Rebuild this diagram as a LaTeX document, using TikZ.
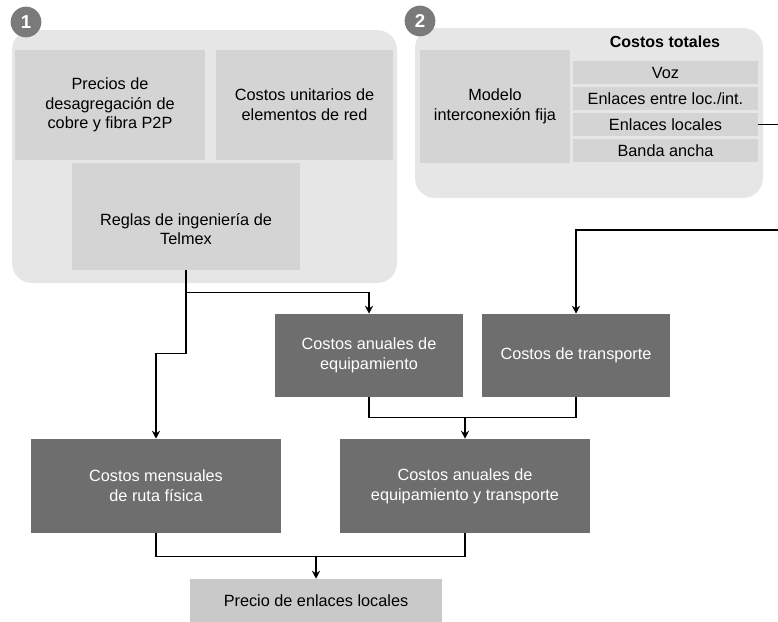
\documentclass[tikz,border=0pt]{standalone}
\usepackage{fontspec}
\setmainfont{Liberation Sans}
\usetikzlibrary{arrows.meta, positioning}
\definecolor{fondoGrupo}{HTML}{E6E6E6}
\definecolor{cajaClara}{HTML}{D4D4D4}
\definecolor{cajaOscura}{HTML}{6E6E6E}
\definecolor{circulo}{HTML}{7A7A7A}
\tikzstyle{grupo} = [rectangle, rounded corners=15pt, fill=fondoGrupo]
\tikzstyle{claro} = [rectangle, fill=cajaClara, align=center, inner sep=0pt]
\tikzstyle{fila} = [rectangle, fill=cajaClara, minimum width=138.75pt, minimum height=17.6pt, inner sep=0pt]
\tikzstyle{oscuro} = [rectangle, fill=cajaOscura, text=white, align=center, inner sep=0pt]
\tikzstyle{numero} = [circle, fill=circulo, text=white, font=\fontsize{14}{14}\selectfont\bfseries, minimum size=23pt, inner sep=0pt]
\tikzstyle{linea} = [line width=1.1pt]
\tikzstyle{flecha} = [linea, -{Stealth[length=6pt, width=6pt]}]

\begin{document}
\begin{tikzpicture}[x=0.75pt, y=-0.75pt, font=\fontsize{12.2}{14.8}\selectfont]
\useasboundingbox (0,0) rectangle (778,621);
\coordinate (bordeDer) at (778,0);

% bloque 1
\node (grupoUno) [grupo, minimum width=288.75pt, minimum height=189.75pt] at (204.5,156.5) {};
\node (numUno) [numero] at (26,22) {1};
\node (precios) [claro, minimum width=142.5pt, minimum height=82.5pt] at (110,105) {Precios de\\desagregación de\\cobre y fibra P2P};
\node (costosUnit) [claro, minimum width=132.75pt, minimum height=82.5pt] at (304.5,105) {Costos unitarios de\\elementos de red};
\node (reglas) [claro, minimum width=171pt, minimum height=80.25pt] at (186,216.5) {};
\node (reglasTexto) [align=center] at (186,229) {Reglas de ingeniería de\\Telmex};

% bloque 2
\node (grupoDos) [grupo, minimum width=261pt, minimum height=127.5pt] at (589,113) {};
\node (numDos) [numero] at (420,21) {2};
\node (modelo) [claro, minimum width=112.5pt, minimum height=84.75pt] at (495,106.5) {Modelo\\interconexión fija};
\node (totales) [font=\fontsize{12}{14}\selectfont\bfseries] at (665,42) {Costos totales};
\node (voz) [fila] at (665.5,72.75) {Voz};
\node (enlacesEntre) [fila, below=1.5pt of voz] {Enlaces entre loc./int.};
\node (locales) [fila, below=1.5pt of enlacesEntre] {Enlaces locales};
\node (banda) [fila, below=1.5pt of locales] {Banda ancha};
\coordinate (entradaTransp) at (778,230);

% costos
\node (anualesEquip) [oscuro, minimum width=141pt, minimum height=62.25pt] at (369,355.5) {Costos anuales de\\equipamiento};
\node (transporte) [oscuro, minimum width=141pt, minimum height=62.25pt] at (576,355.5) {Costos de transporte};
\node (mensuales) [oscuro, minimum width=187.5pt, minimum height=70.5pt] at (156,486) {Costos mensuales\\de ruta física};
\node (equipTransp) [oscuro, minimum width=187.5pt, minimum height=70.5pt] at (465,486) {Costos anuales de\\equipamiento y transporte};
\node (precio) [claro, fill=cajaClara!95!black, minimum width=189pt, minimum height=33pt] at (316,601) {Precio de enlaces locales};

\draw[flecha] (reglas.south) -- ++(0,22) -| (anualesEquip.north);
\draw[flecha] (reglas.south) -- ++(0,83) -| (mensuales.north);
\draw[linea] (locales.east) -- (locales.east -| bordeDer);
\draw[flecha] (entradaTransp) -| (transporte.north);
\draw[linea] (anualesEquip.south) -- ++(0,20) coordinate (nudoEquip) -| (transporte.south);
\draw[flecha] (equipTransp.north |- nudoEquip) -- (equipTransp.north);
\draw[linea] (mensuales.south) -- ++(0,23) coordinate (nudoRuta) -| (equipTransp.south);
\draw[flecha] (precio.north |- nudoRuta) -- (precio.north);

\end{tikzpicture}
\end{document}
